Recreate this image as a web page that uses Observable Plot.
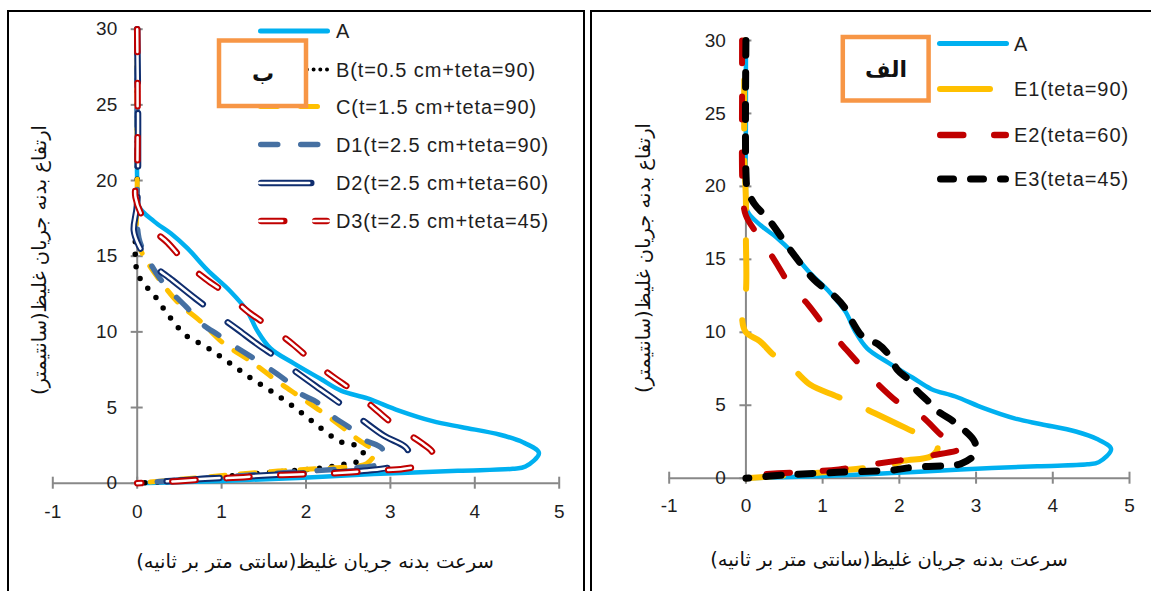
<!DOCTYPE html>
<html><head><meta charset="utf-8">
<script src="https://cdn.jsdelivr.net/npm/d3@7"></script>
<script src="https://cdn.jsdelivr.net/npm/@observablehq/plot@0.6"></script>
<style>
body{margin:0;background:#fff;}
#wrap{position:relative;width:1151px;height:591px;overflow:hidden;background:#fff;}
#wrap svg{position:absolute;top:0;}
</style></head><body><div id="wrap"></div>
<script>
// ---------- data (speed cm/s = x, height cm = y) ----------
const xTicks = [-1, 0, 1, 2, 3, 4, 5];
const yTicks = [0, 5, 10, 15, 20, 25, 30];

const A_x = [0,0,0,0.02,0.2,0.4,0.6,0.83,1.1,1.3,1.42,1.58,1.86,2.17,2.42,2.73,3.1,3.5,3.85,4.3,4.57,4.76,4.6,4.45,3.8,2.8,1.9,1.0,0];
const A_y = [30,25,20,18.3,17.3,16.5,15.5,14.1,12.7,11.4,10.1,8.9,7.9,6.9,6.1,5.6,4.8,4.1,3.7,3.2,2.7,2.0,1.1,0.95,0.82,0.6,0.35,0.15,0];

const B_x = [0,0,-0.02,0.01,0.09,0.19,0.37,0.57,0.82,1.08,1.33,1.58,1.84,2.07,2.33,2.47,2.59,2.68,2.57,2.41,2.27,1.95,1.38,0.75,0.35,0];
const B_y = [30,20,14.7,13.8,13.1,12.5,11.1,9.8,9.0,8.0,7.0,6.1,5.1,4.1,3.0,2.6,2.5,1.94,1.32,1.24,1.06,0.88,0.62,0.29,0.12,0];

const C_x = [0,0,0.01,0.11,0.27,0.49,0.75,1.01,1.36,1.67,1.93,2.24,2.59,2.81,2.72,2.55,2.2,1.67,0.79,0];
const C_y = [30,20,15.9,14.7,13.4,11.9,10.7,9.3,8.0,6.7,5.7,4.5,3.0,2.0,1.3,1.1,0.98,0.8,0.4,0];

const D1_x = [0,0,0.02,0.12,0.26,0.41,0.59,0.75,0.97,1.14,1.45,1.76,1.94,2.13,2.33,2.51,2.68,2.9,2.92,2.86,2.6,1.9,0.6,0];
const D1_y = [30,20,16.2,14.9,13.6,12.6,11.6,10.6,9.76,9.1,8.0,6.8,5.9,5.35,4.36,3.7,2.9,2.3,1.6,1.25,1.02,0.75,0.25,0];

const D2_x = [0,0,-0.04,0.02,0.15,0.42,0.69,0.93,1.18,1.42,1.68,1.92,2.17,2.41,2.66,2.92,3.18,3.22,3.16,3.0,2.73,2.41,1.82,1.2,0.6,0];
const D2_y = [30,18.5,16.7,15.7,14.6,13.4,12.2,11.2,10.2,9.2,8.2,7.2,6.2,5.25,4.2,3.15,2.38,1.94,1.5,1.06,0.84,0.73,0.6,0.42,0.22,0];

const D3_x = [0,0,-0.02,0.12,0.36,0.57,0.81,1.09,1.32,1.58,1.84,2.09,2.33,2.61,2.84,3.08,3.36,3.5,3.46,3.16,2.84,2.53,2.19,1.9,1.56,1.26,0.93,0.61,0.28,0];
const D3_y = [30,20.5,18.9,17.1,15.9,14.6,13.5,12.4,11.3,10.3,9.2,8.0,7.0,5.9,4.8,3.7,2.7,2.0,1.39,0.95,0.84,0.73,0.62,0.58,0.5,0.4,0.29,0.18,0.07,0];

const E1_x = [-0.02,-0.02,0,0,0,-0.05,0,0.18,0.35,0.63,0.84,1.19,1.5,2.1,2.41,2.5,2.41,2.06,1.9,1.0,0];
const E1_y = [30,22,19,16.5,12.8,11.0,10.0,9.4,8.5,7.4,6.4,5.6,4.9,3.4,2.6,2.1,1.5,1.2,0.95,0.4,0];

const E2_x = [-0.05,-0.05,-0.04,0,0.18,0.39,0.58,0.81,1.03,1.26,1.5,1.73,2.01,2.3,2.56,2.82,2.41,2.06,1.68,1.21,0.65,0.04,0];
const E2_y = [30,27,19.5,18,16.5,14.8,13.2,11.9,10.4,9.1,7.7,6.4,5.1,4.2,2.9,2.1,1.55,1.26,0.98,0.6,0.4,0.15,0];

const E3_x = [0,0,0.02,0.11,0.3,0.6,0.89,1.17,1.3,1.39,1.54,1.72,1.84,1.98,2.11,2.21,2.37,2.5,2.69,2.8,2.97,3.0,2.97,2.8,2.62,2.19,1.89,1.2,0.5,0];
const E3_y = [30,21,19.8,18.8,17.7,15.5,13.6,12.4,11.6,10.7,9.6,9.2,8.6,7.4,6.8,6.1,5.3,4.6,3.95,3.5,2.6,2.1,1.55,0.98,0.87,0.75,0.55,0.4,0.22,0];

const leftLabels = ["A", "B(t=0.5 cm+teta=90)", "C(t=1.5 cm+teta=90)", "D1(t=2.5 cm+teta=90)", "D2(t=2.5 cm+teta=60)", "D3(t=2.5 cm+teta=45)"];
const rightLabels = ["A", "E1(teta=90)", "E2(teta=60)", "E3(teta=45)"];
const xTitle = "سرعت بدنه جریان غلیظ(سانتی متر بر ثانیه)";
const yTitle = "ارتفاع بدنه جریان غلیظ(سانتیمتر)";
const leftTag = "ب";
const rightTag = "الف";

// ---------- styles ----------
const C_A = "#00B0F0", C_Y = "#FFC000", C_D1 = "#4670A2", C_NAVY = "#0F2D6E", C_RED = "#C00000";
const styles = {
  A:  [{stroke: C_A, strokeWidth: 4.5}],
  B:  [{stroke: "#000", strokeWidth: 5.5, strokeDasharray: "0,12.5"}],
  C:  [{stroke: C_Y, strokeWidth: 5, strokeDasharray: "15,15"}],
  D1: [{stroke: C_D1, strokeWidth: 5.5, strokeDasharray: "17,23"}],
  D2: [{stroke: C_NAVY, strokeWidth: 6.5, strokeDasharray: "53,31"}, {stroke: "#fff", strokeWidth: 2.5, strokeDasharray: "53,31"}],
  D3: [{stroke: C_RED, strokeWidth: 6.5, strokeDasharray: "23,31"}, {stroke: "#fff", strokeWidth: 2.5, strokeDasharray: "23,31"}],
  E1: [{stroke: C_Y, strokeWidth: 6, strokeDasharray: "48,32", strokeDashoffset: 40}],
  E2: [{stroke: C_RED, strokeWidth: 6, strokeDasharray: "23,33"}],
  E3: [{stroke: "#000", strokeWidth: 7, strokeDasharray: "15,17"}]
};
const pairs = (xs, ys) => xs.map((x, i) => [x, ys[i]]);
const lineMarks = (xs, ys, st) => st.map(s => Plot.line(pairs(xs, ys), {
  ...s, strokeLinecap: "round", strokeLinejoin: "round", curve: "catmull-rom"
}));

const axisColor = "#888888";
const tickFont = "Liberation Sans, Arial, sans-serif";

function panel(series, o) {
  const marks = [
    Plot.ruleY([0], {x1: -1, x2: 5, stroke: axisColor, strokeWidth: 2}),
    Plot.ruleX([0], {y1: 0, y2: 30, stroke: axisColor, strokeWidth: 2}),
    Plot.ruleX(xTicks, {y1: 0, y2: 0, insetTop: -6, insetBottom: -6, stroke: axisColor, strokeWidth: 2}),
    Plot.ruleY(yTicks, {x1: 0, x2: 0, insetLeft: -6, insetRight: -6, stroke: axisColor, strokeWidth: 2}),
    Plot.text(xTicks, {x: d => d, y: 0, dy: o.labDy, text: d => String(d), fontSize: 19, fontFamily: tickFont, fill: "#1e1e1e"}),
    Plot.text(yTicks, {x: 0, y: d => d, dx: -20, textAnchor: "end", text: d => String(d), fontSize: 19, fontFamily: tickFont, fill: "#1e1e1e"}),
    ...series.flatMap(([xs, ys, st]) => lineMarks(xs, ys, st))
  ];
  const svg = Plot.plot({
    width: o.width, height: 591,
    marginLeft: o.x0, marginRight: o.width - o.x1, marginTop: o.yTop, marginBottom: 591 - o.yBot,
    x: {domain: [-1, 5], axis: null},
    y: {domain: [0, 30], axis: null},
    style: {background: "transparent", overflow: "visible"},
    marks
  });
  svg.style.left = o.left + "px";
  return svg;
}

const wrap = document.getElementById("wrap");
wrap.appendChild(panel([
  [A_x, A_y, styles.A], [B_x, B_y, styles.B], [C_x, C_y, styles.C],
  [D1_x, D1_y, styles.D1], [D2_x, D2_y, styles.D2], [D3_x, D3_y, styles.D3]
], {left: 0, width: 600, x0: 52.3, x1: 558.7, yTop: 28.7, yBot: 482.7, labDy: 29}));
wrap.appendChild(panel([
  [A_x, A_y, styles.A], [E1_x, E1_y, styles.E1], [E2_x, E2_y, styles.E2], [E3_x, E3_y, styles.E3]
], {left: 585, width: 566, x0: 83.7, x1: 544, yTop: 40, yBot: 477.7, labDy: 28}));

// ---------- overlay: borders, legends, tag boxes, titles ----------
const ov = d3.select(wrap).append("svg").attr("width", 1151).attr("height", 591).style("left", "0px");
ov.append("rect").attr("x", 8).attr("y", 11).attr("width", 576).attr("height", 620).attr("fill", "none").attr("stroke", "#000").attr("stroke-width", 2);
ov.append("rect").attr("x", 591).attr("y", 11).attr("width", 620).attr("height", 620).attr("fill", "none").attr("stroke", "#000").attr("stroke-width", 2);

function legend(keys, labels, rows, x0, x1, tx, legendStyles) {
  keys.forEach((k, i) => {
    const y = rows[i];
    legendStyles[k].forEach(s => {
      const hw = s.w / 2;
      ov.append("line").attr("x1", x0 + hw).attr("x2", x1 - hw).attr("y1", y).attr("y2", y)
        .attr("stroke", s.stroke).attr("stroke-width", s.w).attr("stroke-linecap", "round")
        .attr("stroke-dasharray", s.dash || null);
    });
    ov.append("text").attr("x", tx).attr("y", y).attr("dominant-baseline", "central")
      .attr("font-family", tickFont).attr("font-size", 20).attr("letter-spacing", 0.9)
      .attr("fill", "#1e1e1e").text(labels[i]);
  });
}
const legStyles = {
  A: [{stroke: C_A, w: 5}],
  B: [{stroke: "#000", w: 4, dash: "0,6.7"}],
  C: [{stroke: C_Y, w: 5, dash: "17,23"}],
  D1: [{stroke: C_D1, w: 5.5, dash: "17,23"}],
  D2: [{stroke: C_NAVY, w: 6.5, dash: "50,30"}, {stroke: "#fff", w: 2.5, dash: "50,30"}],
  D3: [{stroke: C_RED, w: 6.5, dash: "23,31"}, {stroke: "#fff", w: 2.5, dash: "23,31"}],
  E1: [{stroke: C_Y, w: 6, dash: "50,30"}],
  E2: [{stroke: C_RED, w: 6.5, dash: "23,31"}],
  E3: [{stroke: "#000", w: 7, dash: "13,17"}]
};
legend(["A", "B", "C", "D1", "D2", "D3"], leftLabels, [31, 69.5, 106.5, 144.5, 183, 221], 258, 330, 336, legStyles);
legend(["A", "E1", "E2", "E3"], rightLabels, [43.5, 89, 135, 179], 937, 1009, 1014, legStyles);

// tag boxes
function tagBox(x, y, w, h, label, cx, cy) {
  ov.append("rect").attr("x", x).attr("y", y).attr("width", w).attr("height", h)
    .attr("fill", "#fff").attr("stroke", "#F79646").attr("stroke-width", 4.5);
  ov.append("text").attr("x", cx).attr("y", cy).attr("text-anchor", "middle").attr("dominant-baseline", "central")
    .attr("direction", "rtl").attr("font-family", "DejaVu Sans, sans-serif").attr("font-weight", "bold")
    .attr("font-size", 22).attr("fill", "#111").text(label);
}
tagBox(219, 40.5, 87, 65.5, leftTag, 263, 73);
tagBox(842.8, 37, 85.8, 63.5, rightTag, 886, 69);

// axis titles
function titles(cx, cy, yx, yy) {
  ov.append("text").attr("x", cx).attr("y", cy).attr("text-anchor", "middle").attr("dominant-baseline", "central")
    .attr("direction", "rtl").attr("font-family", "DejaVu Sans, sans-serif").attr("font-size", 19.5)
    .attr("fill", "#111").text(xTitle);
  ov.append("text").attr("transform", `translate(${yx},${yy}) rotate(-90)`).attr("text-anchor", "middle")
    .attr("dominant-baseline", "central").attr("direction", "rtl").attr("font-family", "DejaVu Sans, sans-serif")
    .attr("font-size", 19.5).attr("fill", "#111").text(yTitle);
}
titles(315, 561, 39, 260);
titles(889, 559, 643, 258);
</script></body></html>
